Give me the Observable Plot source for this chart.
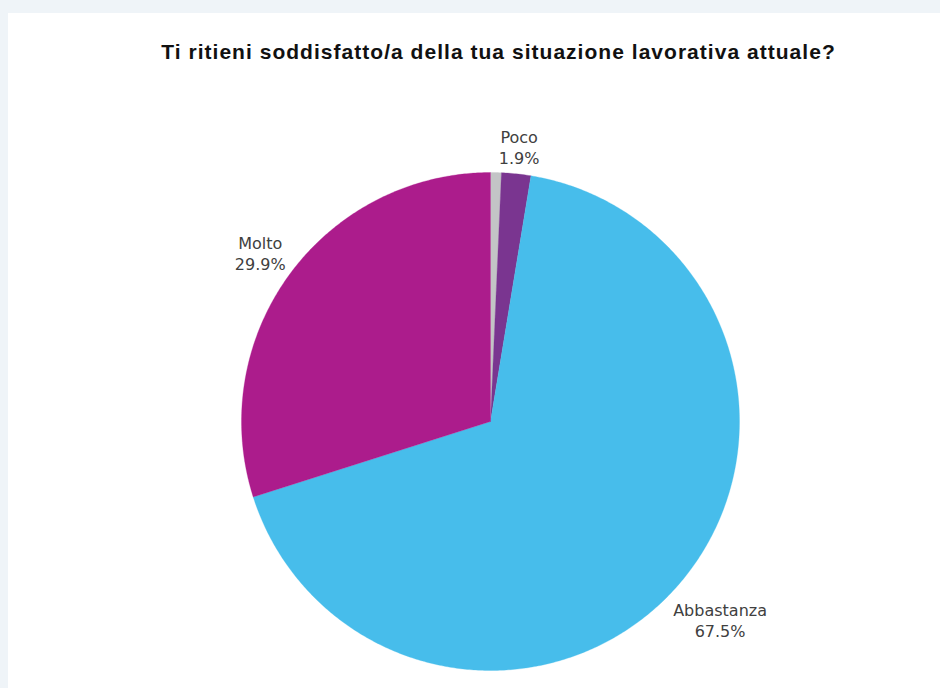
<!DOCTYPE html>
<html>
<head>
<meta charset="utf-8">
<script src="https://cdn.jsdelivr.net/npm/d3@7"></script>
<script src="https://cdn.jsdelivr.net/npm/@observablehq/plot@0.6"></script>
<style>
  html, body { margin: 0; padding: 0; background: #eff4f8; width: 940px; height: 688px; overflow: hidden; }
  #card { position: absolute; left: 8px; top: 13px; width: 932px; height: 675px; background: #ffffff; }
  #title { position: absolute; left: 0; top: 28px; width: 981px; text-align: center; white-space: nowrap;
           font-family: "Liberation Sans", Arial, sans-serif; font-weight: bold; font-size: 21px; line-height: 21px;
           letter-spacing: 1.03px; color: #111; }
  #chart { position: absolute; left: 0; top: 70px; }
  #chart svg { display: block; }
</style>
</head>
<body>
<div id="card">
  <div id="title">Ti ritieni soddisfatto/a della tua situazione lavorativa attuale?</div>
  <div id="chart"></div>
</div>
<script>
const categories = ["Per niente", "Poco", "Abbastanza", "Molto"];
const values = [0.7, 1.9, 67.5, 29.9];
const showLabel = [false, true, true, true];
const colors = ["#c3c4c6", "#7a3590", "#47bdeb", "#ac1c8c"];

const data = categories.map((c, i) => ({category: c, value: values[i], show: showLabel[i]}));
const pie = d3.pie().sort(null).value(d => d.value).startAngle(0).endAngle(2 * Math.PI)(data);

// polygon vertices for each slice (unit circle), angle clockwise from 12 o'clock
const pts = [];
for (const s of pie) {
  const key = s.data.category;
  pts.push({category: key, x: 0, y: 0});
  const n = Math.max(2, Math.ceil((s.endAngle - s.startAngle) / (Math.PI / 360)));
  for (let k = 0; k <= n; k++) {
    const a = s.startAngle + (s.endAngle - s.startAngle) * k / n;
    pts.push({category: key, x: Math.sin(a), y: Math.cos(a)});
  }
  pts.push({category: key, x: 0, y: 0});
}

const R = 249, cx = 482, cy = 338;
const W = 932, H = 605;
const fontSize = 16;
const lineH = 21;
const labels = pie.filter(s => s.data.show).map(s => {
  const a = (s.startAngle + s.endAngle) / 2;
  const text = `${s.data.category}\n${d3.format(".1f")(s.data.value)}%`;
  const w = s.data.category.length * fontSize * 0.6;
  const h = lineH * 2;
  const rPx = R + 4.5 + Math.abs(Math.sin(a)) * w / 2 + Math.abs(Math.cos(a)) * h / 2;
  const r = rPx / R;
  return {text, x: r * Math.sin(a), y: r * Math.cos(a)};
});

const chart = Plot.plot({
  width: W,
  height: H,
  margin: 0,
  x: {domain: [-1, 1], range: [cx - R, cx + R], axis: null},
  y: {domain: [-1, 1], range: [cy + R, cy - R], axis: null},
  color: {domain: categories, range: colors},
  style: {background: "transparent", fontFamily: "DejaVu Sans, sans-serif"},
  marks: [
    Plot.line(pts, {x: "x", y: "y", z: "category", fill: "category", stroke: "category", strokeWidth: 0.3, curve: "linear"}),
    Plot.text(labels, {x: "x", y: "y", text: "text", fontSize: fontSize, fill: "#404040", lineAnchor: "middle", textAnchor: "middle", lineHeight: lineH / fontSize})
  ]
});
document.getElementById("chart").appendChild(chart);
</script>
</body>
</html>
